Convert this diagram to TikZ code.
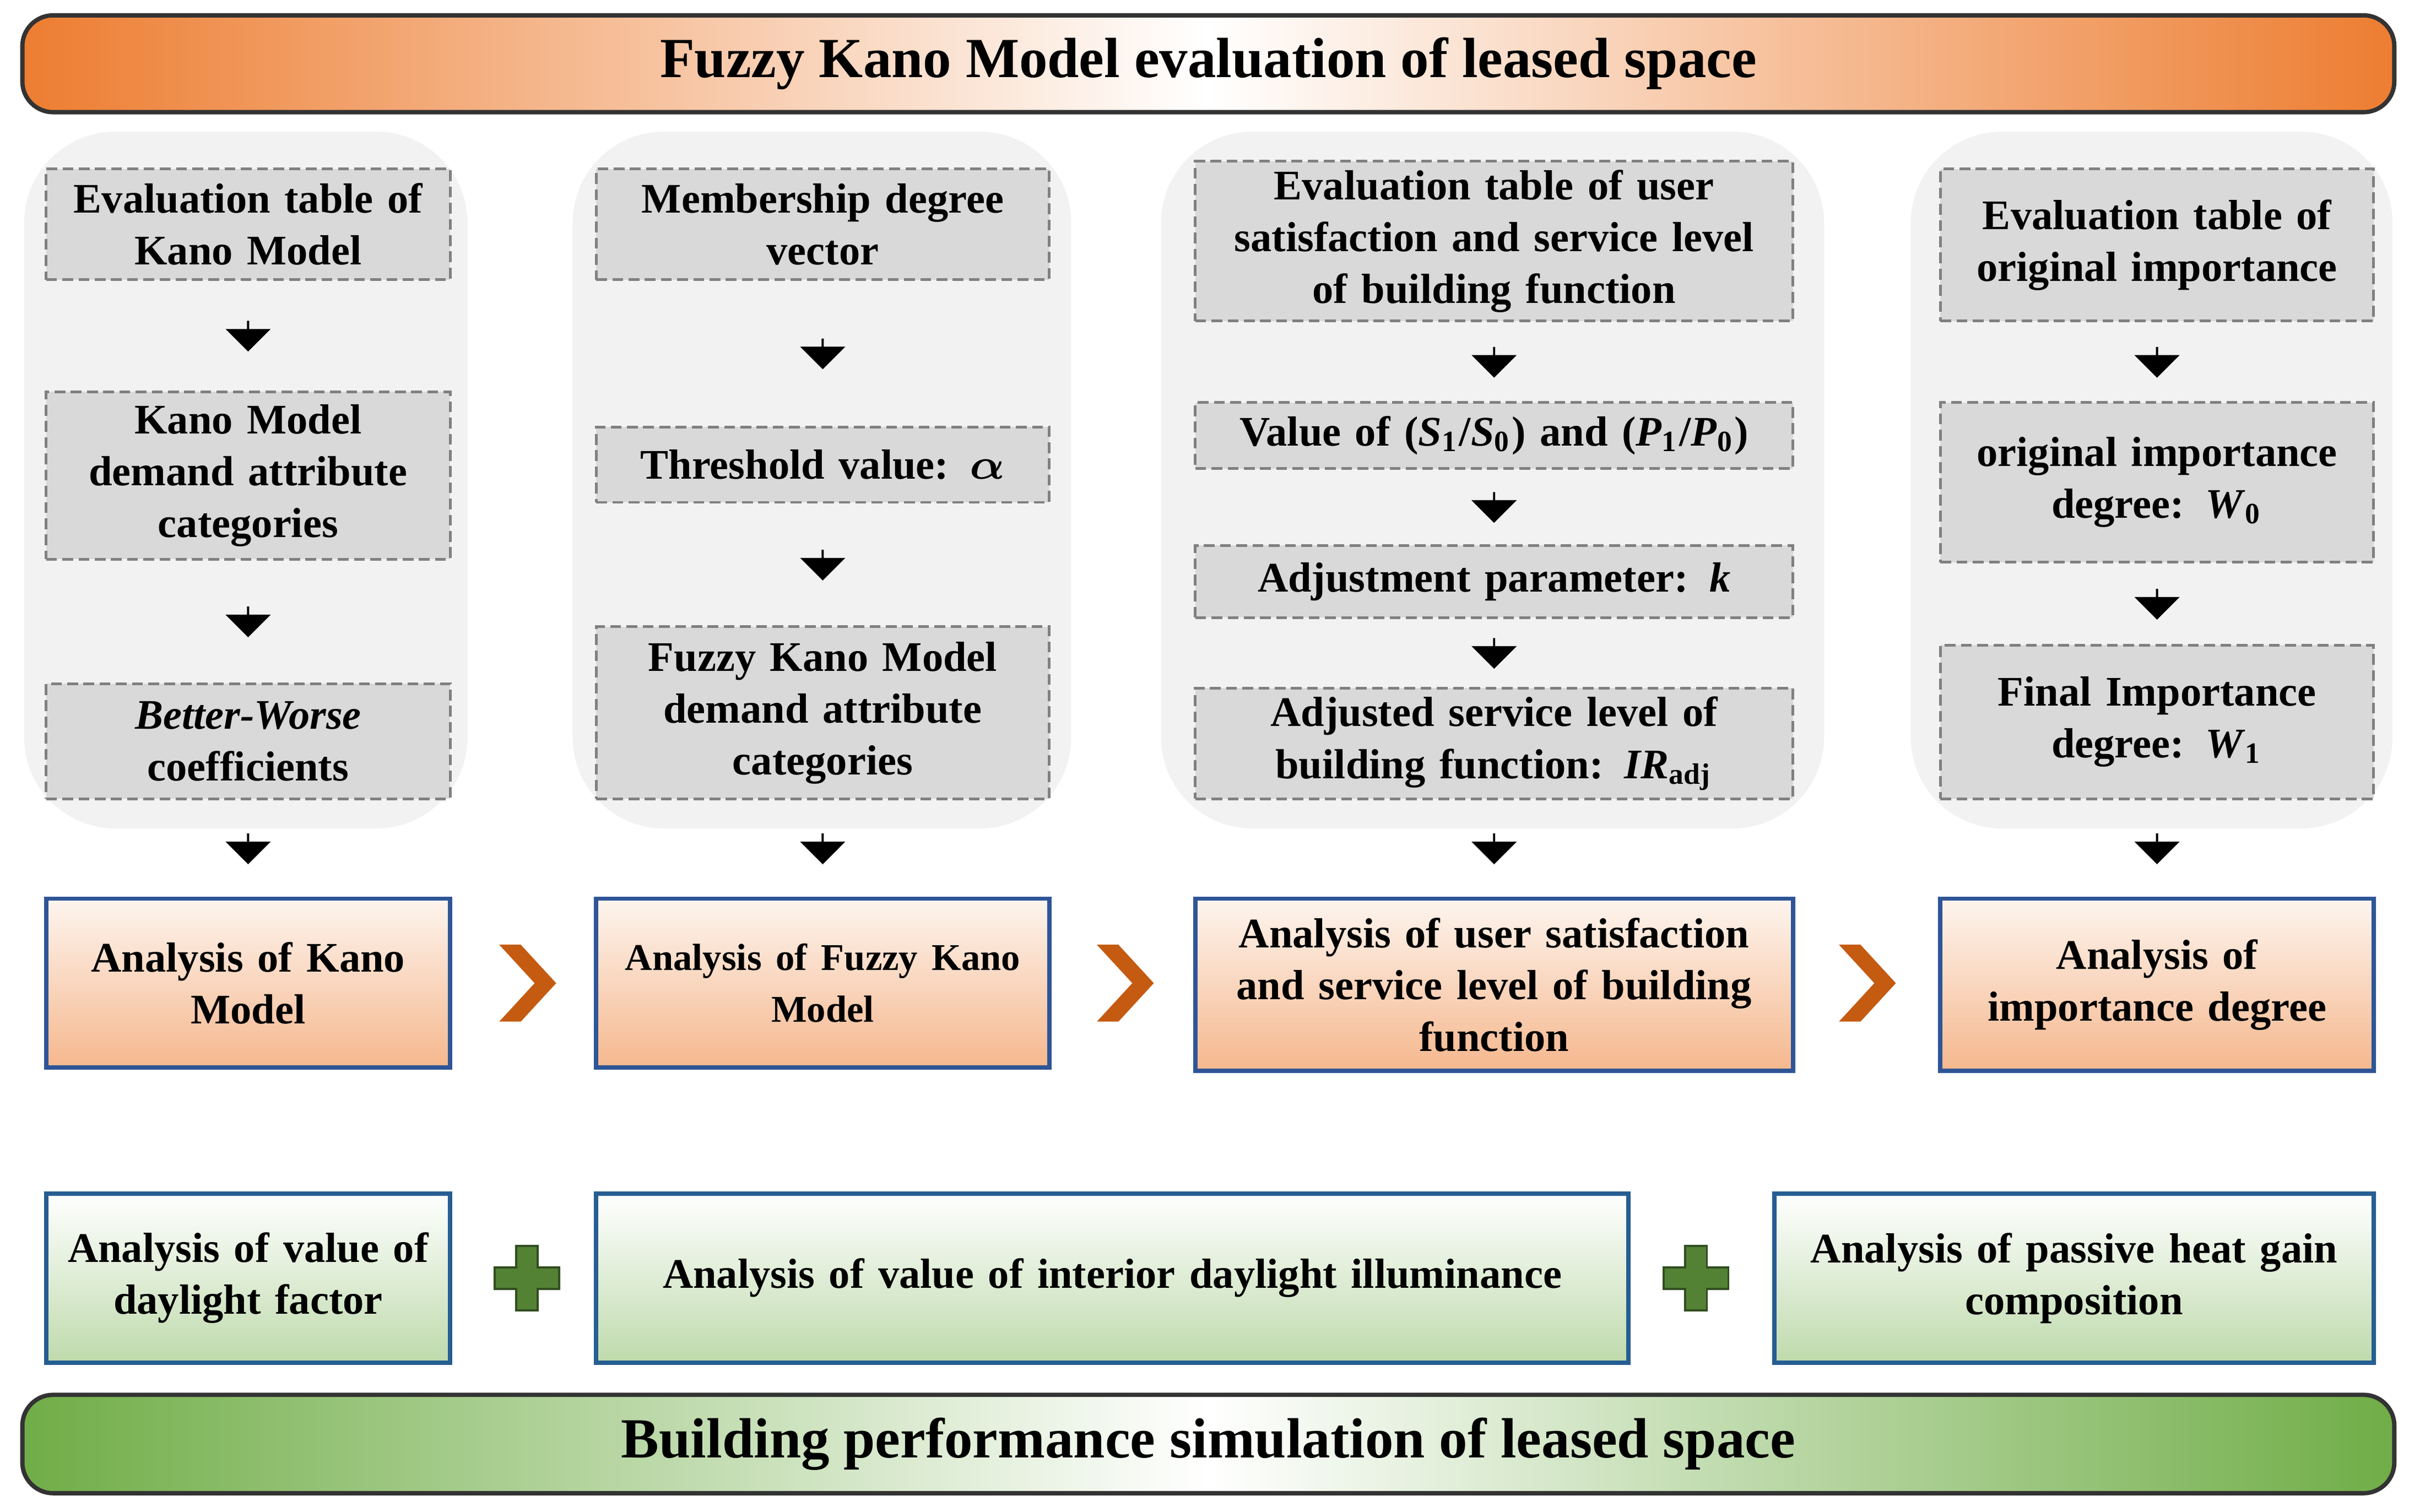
\documentclass[tikz,border=0pt]{standalone}
\usepackage{amsmath,amssymb,bm}
\usepackage{fontspec}
\setmainfont{Liberation Serif}
\usetikzlibrary{shapes.arrows}
\definecolor{og}{HTML}{ED7D31}
\definecolor{ogd}{HTML}{C55A11}
\definecolor{gn}{HTML}{70AD47}
\definecolor{gnd}{HTML}{548235}
\definecolor{bl}{HTML}{2F5597}
\definecolor{panel}{HTML}{F2F2F2}
\definecolor{gbx}{HTML}{D9D9D9}
\tikzset{
  every node/.style={font=\fontsize{7.8pt}{9.6pt}\selectfont\bfseries, align=center, inner sep=0pt},
  gray box/.style={draw=gray, dash pattern=on 2pt off 1pt, fill=gbx, line width=0.5pt},
  orange box/.style={draw=bl, line width=0.8pt, top color=og!8, bottom color=og!55},
  green box/.style={draw=bl!80!teal, line width=0.8pt, top color=white, bottom color=gn!45},
  panel/.style={fill=panel, draw=white, rounded corners=0.6cm},
  darr/.style={shape=single arrow, shape border rotate=270, fill=black, minimum height=0.2cm, minimum width=0.24cm, single arrow head extend=0.14cm, single arrow head indent=0pt, inner sep=0pt},
}
\newcommand{\bx}[7]{%
  \pgfmathsetmacro\bw{(#5-#3)/100-0.1}%
  \node[#2, minimum width={(#5-#3)*0.01cm}, minimum height={(#6-#4)*0.01cm}, text width=\bw cm] (#1) at ({(#3+#5)/2},{(#4+#6)/2}) {#7};}
\newcommand{\darrow}[2]{\path (#1.south) -- node[darr]{} (#2.north);}
\newcommand{\chev}[2]{\fill[ogd] (#1,#2) -- ++(14,0) -- (#1+37,#2+25) -- (#1+14,#2+50) -- (#1,#2+50) -- (#1+23,#2+25) -- cycle;}
\newcommand{\plus}[2]{\fill[gnd, draw=gnd!60!black, line width=0.4pt] (#1-7,#2-21) -- (#1+7,#2-21) -- (#1+7,#2-7) -- (#1+21,#2-7) -- (#1+21,#2+7) -- (#1+7,#2+7) -- (#1+7,#2+21) -- (#1-7,#2+21) -- (#1-7,#2+7) -- (#1-21,#2+7) -- (#1-21,#2-7) -- (#1-7,#2-7) -- cycle;}
\begin{document}
\begin{tikzpicture}[x=0.01cm, y=-0.01cm]
\useasboundingbox (0,0) rectangle (1568,984);
% banners
\node[draw=black!80, line width=0.8pt, rounded corners=0.2cm, left color=og, right color=og, middle color=white, minimum width=15.43cm, minimum height=0.63cm, font=\fontsize{10.5pt}{13pt}\selectfont\bfseries] (top) at (786.5,41.5) {Fuzzy Kano Model evaluation of leased space};
\node[draw=black!80, line width=0.8pt, rounded corners=0.2cm, left color=gn, right color=gn, middle color=white, minimum width=15.43cm, minimum height=0.64cm, font=\fontsize{10.5pt}{13pt}\selectfont\bfseries] (bot) at (786.5,940) {Building performance simulation of leased space};
% panels
\draw[panel] (15,85) rectangle (305,540);
\draw[panel] (372,85) rectangle (698,540);
\draw[panel] (755,85) rectangle (1188,540);
\draw[panel] (1243,85) rectangle (1558,540);
% column 1
\bx{a1}{gray box}{30}{110}{293}{182}{Evaluation table of\\Kano Model}
\bx{a2}{gray box}{30}{255}{293}{364}{Kano Model\\demand attribute\\categories}
\bx{a3}{gray box}{30}{445}{293}{520}{\textit{Better-Worse}\\coefficients}
\bx{a4}{orange box}{30}{585}{293}{695}{Analysis of Kano\\Model}
% column 2
\bx{b1}{gray box}{388}{110}{683}{182}{Membership degree\\vector}
\bx{b2}{gray box}{388}{278}{683}{327}{Threshold value: $\bm{\alpha}$}
\bx{b3}{gray box}{388}{408}{683}{520}{Fuzzy Kano Model\\demand attribute\\categories}
\bx{b4}{orange box}{388}{585}{683}{695}{\fontsize{7pt}{9pt}\selectfont Analysis of Fuzzy Kano\\Model}
% column 3
\bx{c1}{gray box}{778}{105}{1167}{209}{Evaluation table of user\\satisfaction and service level\\of building function}
\bx{c2}{gray box}{778}{262}{1167}{305}{Value of (\textit{S}\textsubscript{1}/\textit{S}\textsubscript{0}) and (\textit{P}\textsubscript{1}/\textit{P}\textsubscript{0})}
\bx{c3}{gray box}{778}{355}{1167}{402}{Adjustment parameter: \textit{k}}
\bx{c4}{gray box}{778}{448}{1167}{520}{Adjusted service level of\\building function: \textit{IR}\textsubscript{adj}}
\bx{c5}{orange box}{778}{585}{1167}{697}{Analysis of user satisfaction\\and service level of building\\function}
% column 4
\bx{d1}{gray box}{1263}{110}{1545}{209}{Evaluation table of\\original importance}
\bx{d2}{gray box}{1263}{262}{1545}{366}{original importance\\degree: \textit{W}\textsubscript{0}}
\bx{d3}{gray box}{1263}{420}{1545}{520}{Final Importance\\degree: \textit{W}\textsubscript{1}}
\bx{d4}{orange box}{1263}{585}{1545}{697}{Analysis of\\importance degree}
% green boxes
\bx{e1}{green box}{30}{777}{293}{887}{Analysis of value of\\daylight factor}
\bx{e2}{green box}{388}{777}{1060}{887}{Analysis of value of interior daylight illuminance}
\bx{e3}{green box}{1155}{777}{1545}{887}{Analysis of passive heat gain\\composition}
% arrows
\darrow{a1}{a2}\darrow{a2}{a3}\darrow{a3}{a4}
\darrow{b1}{b2}\darrow{b2}{b3}\darrow{b3}{b4}
\darrow{c1}{c2}\darrow{c2}{c3}\darrow{c3}{c4}\darrow{c4}{c5}
\darrow{d1}{d2}\darrow{d2}{d3}\darrow{d3}{d4}
% chevrons and pluses
\chev{325}{615}
\chev{714}{615}
\chev{1197}{615}
\plus{343}{832}
\plus{1104}{832}
\end{tikzpicture}
\end{document}
